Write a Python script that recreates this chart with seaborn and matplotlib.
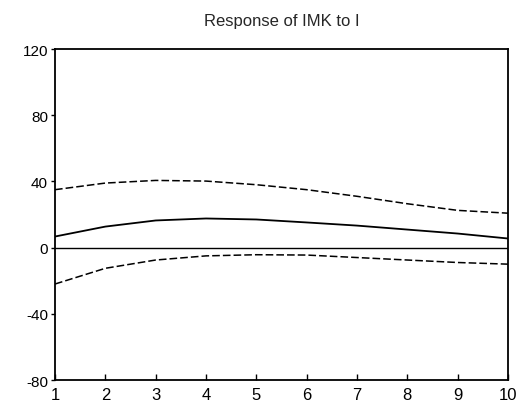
import numpy as np
import pandas as pd
import seaborn as sns
import matplotlib
matplotlib.use("Agg")
import matplotlib.pyplot as plt

# impulse response of IMK to I, with +/- 2 S.E. bands
periods = [1, 2, 3, 4, 5, 6, 7, 8, 9, 10]
response = [6.7, 12.7, 16.4, 17.6, 17.0, 15.2, 13.3, 10.9, 8.5, 5.5]
upper = [35.0, 39.0, 40.6, 40.2, 38.0, 35.0, 31.0, 26.5, 22.5, 20.8]
lower = [-22.0, -12.5, -7.5, -5.0, -4.3, -4.5, -6.0, -7.5, -9.0, -10.0]
y_ticks = [-80, -40, 0, 40, 80, 120]

sns.set_theme(style="white")
plt.rcParams['font.family'] = ['Liberation Sans', 'DejaVu Sans']
plt.rcParams['axes.unicode_minus'] = False

df = pd.DataFrame({"period": periods, "response": response,
                   "upper": upper, "lower": lower})

fig = plt.figure(figsize=(5.3, 4.14), dpi=100)
ax = fig.add_axes([0.1038, 0.0797, 0.8547, 0.7995])

ax.axhline(0, color="black", lw=1.0)
sns.lineplot(data=df, x="period", y="response", color="black", lw=1.3, ax=ax)
sns.lineplot(data=df, x="period", y="upper", color="black", lw=1.1,
             linestyle=(0, (5, 2)), ax=ax)
sns.lineplot(data=df, x="period", y="lower", color="black", lw=1.1,
             linestyle=(0, (5, 2)), ax=ax)

ax.set_xlim(1, 10)
ax.set_ylim(-80, 120)
ax.set_xticks(periods)
ax.set_yticks(y_ticks)
ax.set_xlabel("")
ax.set_ylabel("")
ax.set_title("Response of IMK to I", fontsize=12, pad=17)

for s in ax.spines.values():
    s.set_color("black")
    s.set_linewidth(1.3)

ax.tick_params(axis="x", direction="in", length=4, width=1, labelsize=12,
               colors="black", pad=5, top=False, bottom=True)
ax.tick_params(axis="y", direction="out", length=3, width=1, labelsize=11,
               colors="black", pad=2, left=True, right=False)

fig.savefig("out.png", dpi=100)
